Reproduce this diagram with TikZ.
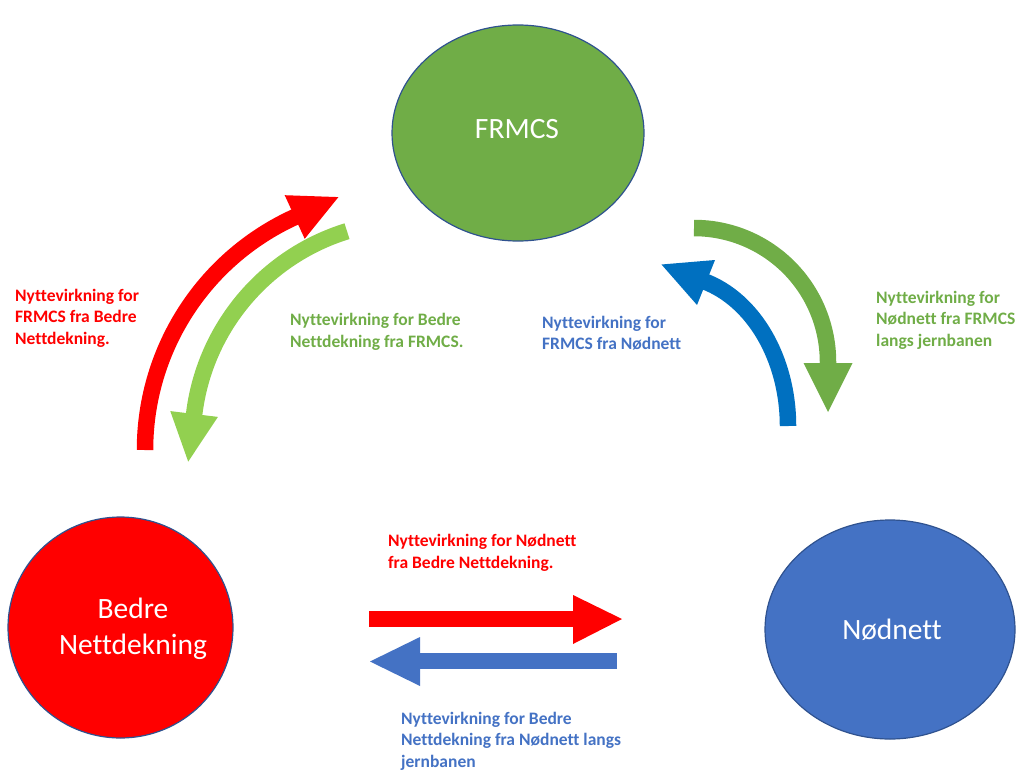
\documentclass[tikz,border=0pt]{standalone}
\usepackage{fontspec}
\setmainfont{Carlito}[Ligatures={NoCommon}]
\usetikzlibrary{shapes.geometric}
\definecolor{cgreen}{HTML}{70AD47}
\definecolor{cred}{HTML}{FF0000}
\definecolor{cblue}{HTML}{4472C4}
\definecolor{cborder}{HTML}{2F528F}
\definecolor{clgreen}{HTML}{92D050}
\definecolor{cdblue}{HTML}{0070C0}
\tikzset{
  blob/.style={ellipse, draw=cborder, line width=1.2pt, inner sep=0pt},
  blobtext/.style={text=white, font=\fontsize{29.5}{36}\selectfont, align=center, inner sep=0pt},
  lbl/.style={font=\fontsize{17.5}{21.5}\selectfont\bfseries, align=left, inner sep=0pt, anchor=west},
  shaft/.style={line width=16.5pt, line cap=butt}
}
\begin{document}
\begin{tikzpicture}[x=1pt,y=-1pt]
\useasboundingbox (0,0) rectangle (1016,770);
% ellipses
\node[blob, fill=cgreen, minimum width=252pt, minimum height=216pt] (frmcs) at (518,133) {};
\node[blob, fill=cred, minimum width=225pt, minimum height=221pt] (bedre) at (120.5,627.5) {};
\node[blob, fill=cblue, minimum width=250pt, minimum height=219pt] (nodnett) at (890,629.5) {};
\node[blobtext] (frmcsT) at (517,129) {FRMCS};
\node[blobtext] (bedreT) at (133,629) {Bedre\\Nettdekning};
\node[blobtext] (nodnettT) at (892,630) {Nødnett};

% red curved arrow (Bedre -> FRMCS)
\coordinate (r0) at (145,450);
\draw[shaft, cred] (r0) arc[start angle=180, end angle=246.5, radius=256];
\fill[cred] (284.7,195.2) -- (338.4,197.1) -- (304.7,238.8) -- cycle;

% light green curved arrow (FRMCS -> Bedre)
\coordinate (g0) at (347,231.2);
\draw[shaft, clgreen] (g0) arc[start angle=252.8, end angle=186, radius=219.3];
\fill[clgreen] (217.9,416.9) -- (188.2,461.6) -- (170.3,411.1) -- cycle;

% blue curved arrow (Nødnett -> FRMCS)
\coordinate (b0) at (788,426);
\draw[shaft, cdblue] (b0) arc[start angle=0, end angle=-74, x radius=116.3, y radius=150.7];
\fill[cdblue] (697,305) -- (661.5,264.5) -- (715,260) -- cycle;

% green curved arrow (FRMCS -> Nødnett)
\coordinate (h0) at (694,228);
\draw[shaft, cgreen] (h0) arc[start angle=-90, end angle=2, radius=134];
\fill[cgreen] (803.5,363) -- (852.5,363) -- (828,412) -- cycle;

% straight arrows
\coordinate (s1a) at (369,619);
\coordinate (s1b) at (575,619);
\draw[shaft, cred] (s1a) -- (s1b);
\fill[cred] (573,595) -- (622,619) -- (573,644) -- cycle;
\coordinate (s2a) at (617,661);
\coordinate (s2b) at (418,661);
\draw[shaft, cblue] (s2a) -- (s2b);
\fill[cblue] (420,637) -- (370,661.5) -- (420,686) -- cycle;

% labels
\node[lbl, text=cred] (l1) at (15,318) {Nyttevirkning for\\FRMCS fra Bedre\\Nettdekning.};
\node[lbl, text=cgreen] (l2) at (290,332) {Nyttevirkning for Bedre\\Nettdekning fra FRMCS.};
\node[lbl, text=cblue] (l3) at (542,333) {Nyttevirkning for\\FRMCS fra Nødnett};
\node[lbl, text=cgreen] (l4) at (876,320) {Nyttevirkning for\\Nødnett fra FRMCS\\langs jernbanen};
\node[lbl, text=cred] (l5) at (388,553) {Nyttevirkning for Nødnett\\fra Bedre Nettdekning.};
\node[lbl, text=cblue] (l6) at (401,741) {Nyttevirkning for Bedre\\Nettdekning fra Nødnett langs\\jernbanen};
\end{tikzpicture}
\end{document}
